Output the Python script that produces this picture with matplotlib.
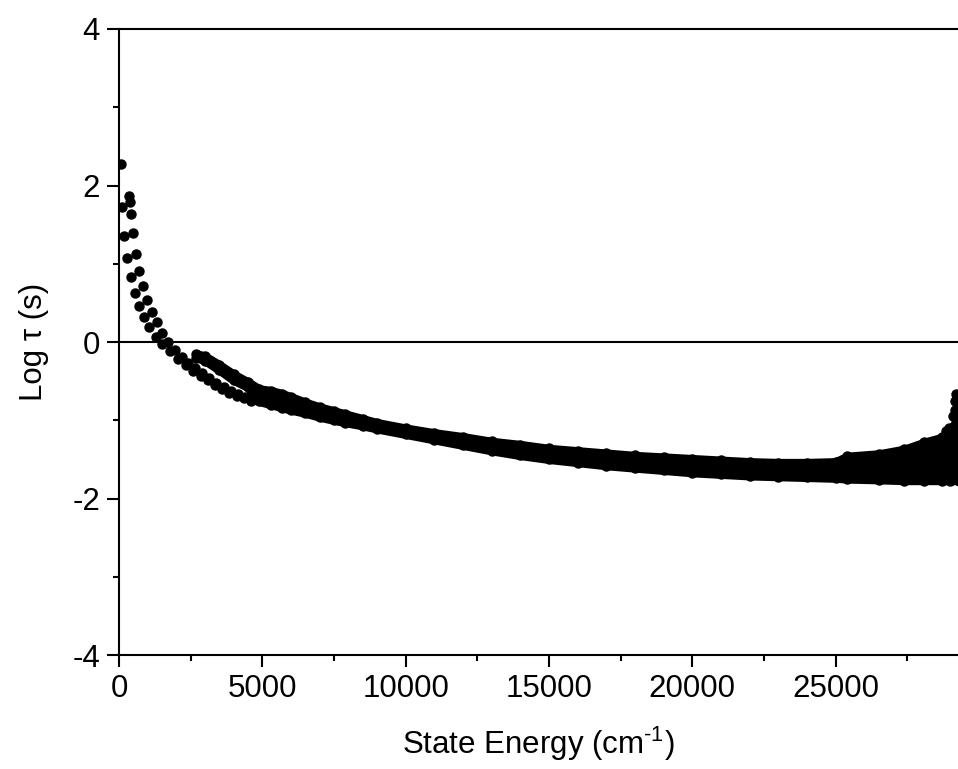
import matplotlib
matplotlib.use("Agg")
import matplotlib.pyplot as plt

plt.rcParams['font.family'] = ['Liberation Sans', 'DejaVu Sans']
plt.rcParams['mathtext.fontset'] = 'custom'
plt.rcParams['mathtext.rm'] = 'Liberation Sans'
plt.rcParams['mathtext.it'] = 'Liberation Sans'
plt.rcParams['axes.unicode_minus'] = False

# low-energy states, two interleaved rows of separate dots
row_a_x = [360, 380, 408, 500, 593, 708, 822, 965, 1139, 1314, 1510, 1719, 1953,
           2186, 2420, 2650, 2900, 3150, 3400, 3650, 3900, 4150, 4400]
row_a_y = [1.86, 1.79, 1.64, 1.39, 1.13, 0.91, 0.72, 0.54, 0.38, 0.25, 0.12, 0.00, -0.10,
           -0.19, -0.27, -0.33, -0.40, -0.46, -0.52, -0.57, -0.62, -0.66, -0.70]
row_b_x = [60, 115, 185, 268, 408, 544, 697, 872, 1057, 1279, 1489, 1778, 2070,
           2330, 2594, 2850, 3100, 3350, 3600, 3850, 4100, 4350, 4600]
row_b_y = [2.28, 1.73, 1.35, 1.07, 0.83, 0.63, 0.46, 0.32, 0.19, 0.07, -0.03, -0.12, -0.22,
           -0.30, -0.37, -0.43, -0.49, -0.55, -0.60, -0.65, -0.69, -0.72, -0.76]

# dense band of states (upper and lower edge of the dot cloud)
band_x = [2700, 3000, 3500, 4000, 4500, 4900, 5300, 5700, 6000, 6500, 7000, 7500, 7900,
          8500, 9000, 10000, 11000, 12000, 13000, 14000, 15000, 16000, 17000, 18000,
          19000, 20000, 21000, 22000, 23000, 24000, 25000, 25400, 26500, 27400, 28100,
          28700, 29000, 29300]
band_top = [-0.15, -0.18, -0.29, -0.41, -0.51, -0.60, -0.62, -0.66, -0.70, -0.77, -0.83,
            -0.88, -0.92, -0.98, -1.03, -1.10, -1.16, -1.21, -1.27, -1.31, -1.36, -1.39,
            -1.42, -1.45, -1.47, -1.49, -1.51, -1.53, -1.54, -1.54, -1.53, -1.46, -1.43,
            -1.37, -1.28, -1.22, -1.13, -0.95]
band_bot = [-0.20, -0.24, -0.36, -0.49, -0.58, -0.76, -0.80, -0.84, -0.87, -0.91, -0.96,
            -1.00, -1.03, -1.07, -1.11, -1.18, -1.25, -1.32, -1.39, -1.45, -1.50, -1.54,
            -1.58, -1.61, -1.64, -1.67, -1.69, -1.71, -1.72, -1.73, -1.74, -1.75, -1.76,
            -1.77, -1.77, -1.77, -1.77, -1.77]

# few scattered high states at the right edge
tail_x = [28850, 28950, 29100, 29150, 29180, 29200]
tail_y = [-1.14, -1.10, -0.95, -0.87, -0.75, -0.66]

fig = plt.figure(figsize=(9.58, 7.69), dpi=100)
ax = fig.add_axes([0.1242, 0.1482, 0.8758, 0.8141])

ax.fill_between(band_x, band_bot, band_top, color='black', lw=6, joinstyle='round')
ax.plot(band_x, band_top, 'o', color='black', ms=6.5)
ax.plot(band_x, band_bot, 'o', color='black', ms=6.5)
ax.plot(row_a_x, row_a_y, 'o', color='black', ms=6.5)
ax.plot(row_b_x, row_b_y, 'o', color='black', ms=6.5)
ax.plot(tail_x, tail_y, 'o', color='black', ms=6.5)

ax.axhline(0, color='black', lw=1.5, zorder=0)

ax.set_xlim(0, 29270)
ax.set_ylim(-4, 4)
ax.set_xticks([0, 5000, 10000, 15000, 20000, 25000])
ax.set_xticks([2500, 7500, 12500, 17500, 22500, 27500], minor=True)
ax.set_yticks([-4, -2, 0, 2, 4])
ax.set_yticks([-3, -1, 1, 3], minor=True)

ax.spines['right'].set_visible(False)
for s in ['left', 'bottom', 'top']:
    ax.spines[s].set_linewidth(1.5)
ax.tick_params(which='both', direction='out', width=1.5, labelsize=22.5, top=False, right=False)
ax.tick_params(which='major', length=8.6, pad=5)
ax.tick_params(which='minor', length=4.3)

ax.set_xlabel(r'State Energy (cm$^{\text{-1}}$)', fontsize=22.5, labelpad=15)
ax.set_ylabel('Log τ (s)', fontsize=22.5, labelpad=17)

fig.savefig('out.png', dpi=100)
